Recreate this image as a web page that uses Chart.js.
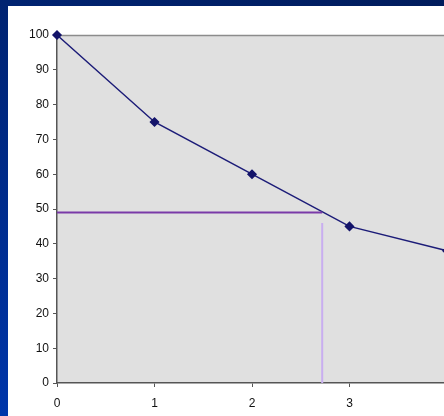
<!DOCTYPE html>
<html>
<head>
<meta charset="utf-8">
<script src="https://cdn.jsdelivr.net/npm/chart.js@4"></script>
<style>
  html, body { margin: 0; padding: 0; width: 444px; height: 416px; overflow: hidden; }
  body { background: linear-gradient(20deg, #0036aa 0%, #002a86 45%, #001c5c 100%); position: relative; }
  #panel { position: absolute; left: 8px; top: 6px; width: 460px; height: 410px; background: #fff; }
</style>
</head>
<body>
<div id="panel"><canvas id="chart" width="460" height="410"></canvas></div>
<script>
// Data
const xValues = [0, 1, 2, 3, 4];
const yValues = [100, 75, 60, 45, 38];
const readLineX = [0, 2.72];
const readLineY = [49, 49];
const dropLineX = [2.72, 2.72];
const dropLineY = [46, 0];
const xTicks = [0, 1, 2, 3, 4];
const yTicks = [0, 10, 20, 30, 40, 50, 60, 70, 80, 90, 100];

const toPoints = (xs, ys) => xs.map((x, i) => ({ x: x, y: ys[i] }));

// Plot area fill and frame
const plotBackground = {
  id: 'plotBackground',
  beforeDraw(chart) {
    const { ctx, chartArea: a } = chart;
    ctx.save();
    ctx.fillStyle = '#e0e0e0';
    ctx.fillRect(a.left, a.top, a.right - a.left, a.bottom - a.top);
    ctx.strokeStyle = '#8c8c8c';
    ctx.lineWidth = 1.5;
    ctx.beginPath();
    ctx.moveTo(a.left, a.top + 0.5);
    ctx.lineTo(a.right, a.top + 0.5);
    ctx.stroke();
    ctx.restore();
  }
};

const chart = new Chart(document.getElementById('chart'), {
  type: 'scatter',
  data: {
    datasets: [
      {
        data: toPoints(dropLineX, dropLineY),
        showLine: true,
        borderColor: '#c9aef0',
        borderWidth: 2,
        pointRadius: 0
      },
      {
        data: toPoints(readLineX, readLineY),
        showLine: true,
        borderColor: '#7a3aa8',
        borderWidth: 2,
        pointRadius: 0
      },
      {
        data: toPoints(xValues, yValues),
        showLine: true,
        borderColor: '#1c1c78',
        borderWidth: 1.5,
        pointStyle: 'rectRot',
        pointRadius: 4,
        pointBackgroundColor: '#14146a',
        pointBorderColor: '#14146a',
        clip: false
      }
    ]
  },
  options: {
    responsive: false,
    animation: false,
    events: [],
    layout: { padding: { top: 29, right: 21, left: 0, bottom: 0 } },
    plugins: { legend: { display: false }, tooltip: { enabled: false } },
    scales: {
      x: {
        type: 'linear',
        min: 0,
        max: 4,
        afterBuildTicks: s => { s.ticks = xTicks.map(v => ({ value: v })); },
        afterFit: s => { s.height = 33; },
        grid: { display: true, drawOnChartArea: false, color: '#555', tickLength: 4, tickWidth: 1 },
        border: { color: '#555', width: 1.5 },
        ticks: { color: '#111', font: { family: 'Arial, Liberation Sans', size: 12 }, padding: 9, maxRotation: 0, autoSkip: false }
      },
      y: {
        min: 0,
        max: 100,
        afterBuildTicks: s => { s.ticks = yTicks.map(v => ({ value: v })); },
        afterFit: s => { s.width = 49; },
        grid: { display: true, drawOnChartArea: false, color: '#555', tickLength: 4, tickWidth: 1 },
        border: { color: '#555', width: 1.5 },
        ticks: { color: '#111', font: { family: 'Arial, Liberation Sans', size: 12 }, padding: 4, autoSkip: false }
      }
    }
  },
  plugins: [plotBackground]
});
</script>
</body>
</html>
